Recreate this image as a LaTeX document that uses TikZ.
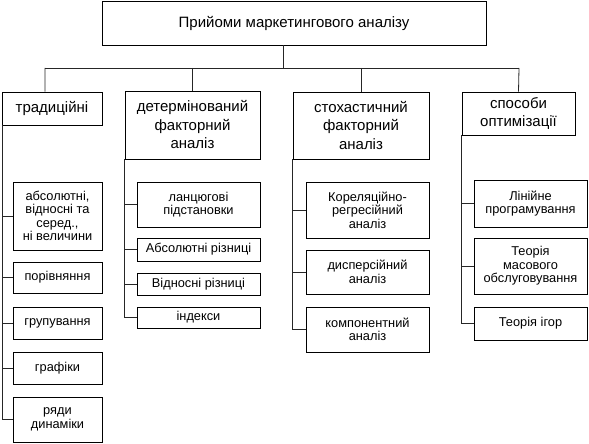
\documentclass[tikz,border=0pt]{standalone}
\usepackage{fontspec}
\setmainfont{Liberation Sans}
\begin{document}
\begin{tikzpicture}[x=1bp,y=-1bp]
    \tikzset{
        box/.style={draw,line width=0.8bp,align=center,inner sep=1bp},
        headbox/.style={box,font=\fontsize{15bp}{18.5bp}\selectfont},
        leafbox/.style={box,font=\fontsize{12.8bp}{13.5bp}\selectfont},
        link/.style={line width=0.8bp,black!85}
    }
    \useasboundingbox (0,0) rectangle (589,444);

    % root and bus line
    \node[headbox,minimum width=384bp,minimum height=44bp] (root) at (294,23)
        {Прийоми маркетингового аналізу};
    \coordinate (busL) at (45,68);
    \coordinate (busR) at (519,68);

    % heads
    \node[headbox,minimum width=100bp,minimum height=33bp] (trad) at (52,108.5) {традиційні};
    \node[headbox,minimum width=135bp,minimum height=68bp] (det) at (192.5,125)
        {детермінований\\факторний\\аналіз};
    \node[headbox,minimum width=136bp,minimum height=67bp] (stoch) at (361,125.5)
        {стохастичний\\факторний\\аналіз};
    \node[headbox,minimum width=113bp,minimum height=43bp] (opt) at (518.5,113.5)
        {способи\\оптимізації};

    % традиційні
    \foreach \name/\y/\h/\txt in {
        absv/216/68/{абсолютні,\\відносні та\\серед.,\\ні величини},
        porivn/277.5/31/{порівняння},
        grup/323/32/{групування},
        graf/368/32/{графіки},
        riady/419.5/45/{ряди\\динаміки}}{
        \node[leafbox,minimum width=89bp,minimum height=\h bp] (\name) at (57.5,\y) {\txt};
    }
    % детермінований
    \foreach \name/\y/\h/\txt in {
        lanc/204.5/45/{ланцюгові\\підстановки},
        absriz/249.5/23/{Абсолютні різниці},
        vidnriz/284/22/{Відносні різниці},
        indeks/317.5/21/{індекси}}{
        \node[leafbox,minimum width=123bp,minimum height=\h bp] (\name) at (198.5,\y) {\txt};
    }
    % стохастичний
    \foreach \name/\y/\h/\txt in {
        korel/210/56/{Кореляційно-\\регресійний\\аналіз},
        disp/272/44/{дисперсійний\\аналіз},
        komp/329.5/45/{компонентний\\аналіз}}{
        \node[leafbox,minimum width=123bp,minimum height=\h bp] (\name) at (367.5,\y) {\txt};
    }
    % оптимізація
    \foreach \name/\y/\h/\txt in {
        linprog/203.5/47/{Лінійне\\програмування},
        masobsl/266/56/{Теорія\\масового\\обслуговування},
        igor/323.5/33/{Теорія ігор}}{
        \node[leafbox,minimum width=113bp,minimum height=\h bp] (\name) at (530.5,\y) {\txt};
    }

    % connectors
    \draw[link] ([xshift=-11bp]root.south) -- ([xshift=-11bp]root.south |- busL);
    \draw[link] (busL) -- (busR);
    \draw[link] (busL) -- ([xshift=-7bp]trad.north);
    \draw[link] (det.north |- busL) -- (det.north);
    \draw[link] (stoch.north |- busL) -- (stoch.north);
    \draw[link] (busR) -- (opt.north);

    \foreach \c in {absv,porivn,grup,graf,riady}
        \draw[link] ([xshift=1bp]trad.south west) |- (\c.west);
    \foreach \c in {lanc,absriz,vidnriz,indeks}
        \draw[link] (det.south west) |- (\c.west);
    \foreach \c in {korel,disp,komp}
        \draw[link] (stoch.south west) |- (\c.west);
    \foreach \c in {linprog,masobsl,igor}
        \draw[link] (opt.south west) |- (\c.west);
\end{tikzpicture}
\end{document}
